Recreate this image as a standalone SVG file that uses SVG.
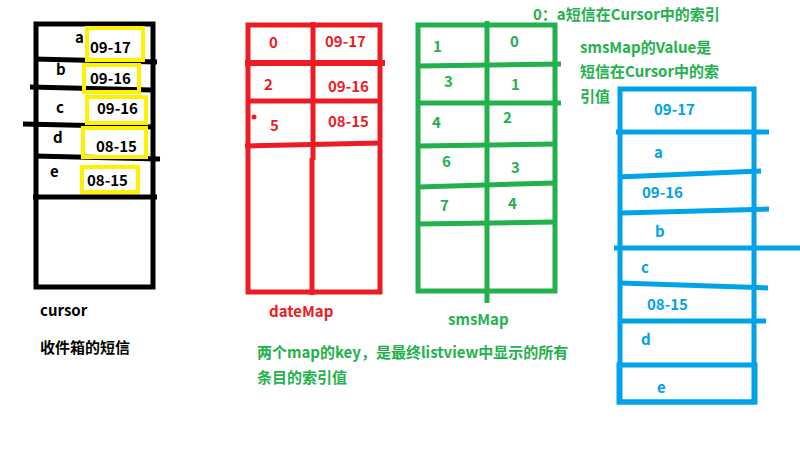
<svg xmlns="http://www.w3.org/2000/svg" width="800" height="459" viewBox="0 0 800 459">
<style>
text{font-family:"Noto Sans CJK SC","Liberation Sans",sans-serif;font-weight:bold;font-size:15px}
.k{fill:#000}.r{fill:#ED1C24}.g{fill:#22B14C}.b{fill:#00A2E8}
.sk{stroke:#000;stroke-width:5;fill:none}
.sy{stroke:#FFF200;stroke-width:4;fill:none}
.sr{stroke:#ED1C24;stroke-width:5;fill:none}
.sg{stroke:#22B14C;stroke-width:5;fill:none}
.sb{stroke:#00A2E8;stroke-width:5;fill:none}
</style>
<rect width="800" height="459" fill="#fff"/>
<g id="cursor">
<rect class="sk" x="36" y="24" width="117" height="263"/>
<line class="sk" x1="34" y1="59" x2="157" y2="62"/>
<line class="sk" x1="30" y1="87" x2="152" y2="90"/>
<line class="sk" x1="23" y1="124" x2="155" y2="127"/>
<line class="sk" x1="34" y1="156" x2="160" y2="159"/>
<line class="sk" x1="33" y1="197" x2="157" y2="197"/>
<rect class="sy" x="87" y="28" width="56" height="32"/>
<rect class="sy" x="84" y="65" width="55" height="27"/>
<rect class="sy" x="87" y="97" width="59" height="26"/>
<rect class="sy" x="83" y="128" width="63" height="29"/>
<rect class="sy" x="82" y="167" width="56" height="25"/>
<text class="k" x="75" y="43">a</text>
<text class="k" x="90" y="53">09-17</text>
<text class="k" x="56" y="75">b</text>
<text class="k" x="90" y="84">09-16</text>
<text class="k" x="56" y="113">c</text>
<text class="k" x="97" y="114">09-16</text>
<text class="k" x="53" y="143">d</text>
<text class="k" x="96" y="152">08-15</text>
<text class="k" x="50" y="177">e</text>
<text class="k" x="87" y="186">08-15</text>
<text class="k" x="40" y="316">cursor</text>
<text class="k" x="40" y="353">收件箱的短信</text>
</g>
<g id="dateMap">
<rect class="sr" x="248" y="25" width="132" height="267"/>
<line class="sr" x1="313" y1="22" x2="313" y2="160"/>
<line class="sr" x1="312" y1="158" x2="312" y2="295"/>
<line class="sr" x1="245" y1="63" x2="385" y2="63" style="stroke-width:6"/>
<line class="sr" x1="248" y1="101" x2="380" y2="101"/>
<line class="sr" x1="245" y1="146" x2="380" y2="143"/>
<circle cx="254" cy="117" r="2.5" fill="#ED1C24"/>
<text class="r" x="269" y="48">0</text>
<text class="r" x="325" y="47">09-17</text>
<text class="r" x="264" y="90">2</text>
<text class="r" x="328" y="92">09-16</text>
<text class="r" x="270" y="131">5</text>
<text class="r" x="328" y="127">08-15</text>
<text class="r" x="269" y="317">dateMap</text>
</g>
<g id="smsMap">
<rect class="sg" x="418" y="25" width="137" height="266"/>
<line class="sg" x1="487" y1="21" x2="487" y2="303"/>
<line class="sg" x1="418" y1="66" x2="561" y2="64"/>
<line class="sg" x1="418" y1="103" x2="561" y2="103"/>
<line class="sg" x1="418" y1="146" x2="555" y2="144"/>
<line class="sg" x1="418" y1="187" x2="555" y2="183"/>
<line class="sg" x1="418" y1="224" x2="555" y2="222"/>
<text class="g" x="433" y="52">1</text>
<text class="g" x="510" y="47">0</text>
<text class="g" x="444" y="87">3</text>
<text class="g" x="511" y="90">1</text>
<text class="g" x="432" y="128">4</text>
<text class="g" x="503" y="123">2</text>
<text class="g" x="442" y="167">6</text>
<text class="g" x="511" y="173">3</text>
<text class="g" x="440" y="211">7</text>
<text class="g" x="508" y="209">4</text>
<text class="g" x="448" y="325">smsMap</text>
</g>
<g id="notes">
<text class="g" x="533" y="20">0：a短信在Cursor中的索引</text>
<text class="g" x="580" y="53">smsMap的Value是</text>
<text class="g" x="580" y="77">短信在Cursor中的索</text>
<text class="g" x="580" y="102">引值</text>
<text class="g" x="257" y="358">两个map的key，是最终listview中显示的所有</text>
<text class="g" x="257" y="383">条目的索引值</text>
</g>
<g id="listview">
<rect class="sb" x="620" y="89" width="134" height="313"/>
<line class="sb" x1="616" y1="132" x2="769" y2="132"/>
<line class="sb" x1="618" y1="177" x2="761" y2="171"/>
<line class="sb" x1="622" y1="213" x2="769" y2="209"/>
<line class="sb" x1="614" y1="248" x2="800" y2="248"/>
<line class="sb" x1="620" y1="283" x2="768" y2="288"/>
<line class="sb" x1="620" y1="321" x2="766" y2="321"/>
<rect class="sb" x="619" y="365" width="136" height="37"/>
<text class="b" x="654" y="115">09-17</text>
<text class="b" x="654" y="158">a</text>
<text class="b" x="642" y="198">09-16</text>
<text class="b" x="655" y="237">b</text>
<text class="b" x="641" y="273">c</text>
<text class="b" x="647" y="310">08-15</text>
<text class="b" x="641" y="345">d</text>
<text class="b" x="657" y="393">e</text>
</g>
</svg>
